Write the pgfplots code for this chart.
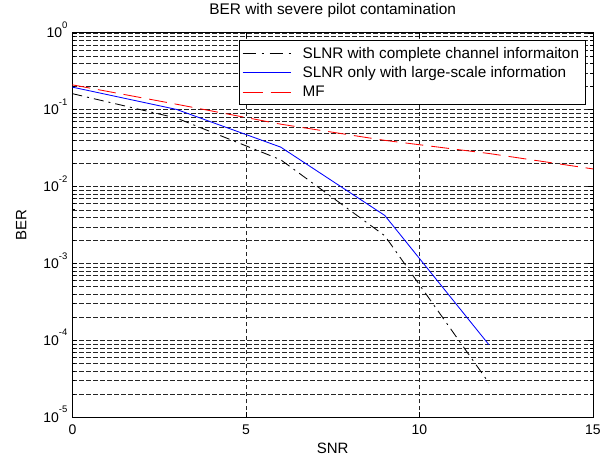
\documentclass[border=0pt]{standalone}
\usepackage{fontspec}
\setmainfont{Liberation Sans}
\usepackage{pgfplots}
\pgfplotsset{compat=1.18}

\definecolor{mred}{RGB}{255,0,0}
\definecolor{mblue}{RGB}{0,0,255}
\newcommand{\dec}[1]{10\raisebox{9.5pt}{\fontsize{9.5}{10}\selectfont #1}}

\begin{document}
\begin{tikzpicture}
\begin{axis}[
    scale only axis,
    width=520.5pt,
    height=384.3pt,
    xmin=0, xmax=15,
    ymode=log,
    ymin=1e-5, ymax=1,
    xtick={0,5,10,15},
    xticklabels={0,5,10,15},
    ytick={1e-5,1e-4,1e-3,1e-2,1e-1,1},
    yticklabels={\dec{-5},\dec{-4},\dec{-3},\dec{-2},\dec{-1},\dec{0}},
    /pgf/number format/assume math mode=true,
    xmajorgrids, ymajorgrids, yminorgrids,
    grid style={black!85, line width=0.55pt, dash pattern=on 4.5pt off 2.5pt},
    minor grid style={black!85, line width=0.55pt, dash pattern=on 4.5pt off 2.5pt},
    tick align=inside,
    major tick length=5pt,
    minor tick length=3pt,
    tick style={black, line width=0.6pt},
    axis line style={black, line width=0.9pt},
    ticklabel style={font=\fontsize{14}{16}\selectfont},
    xticklabel style={anchor=base, yshift=-17.7pt},
    yticklabel style={anchor=base east, yshift=-5pt, xshift=-1.5pt},
    title={BER with severe pilot contamination},
    title style={at={(axis description cs:0.5,1)}, anchor=base, yshift=12.4pt,
                 font=\fontsize{15.4}{17}\selectfont},
    xlabel={SNR},
    xlabel style={at={(axis description cs:0.5,0)}, anchor=base, yshift=-36.7pt,
                  font=\fontsize{15}{17}\selectfont},
    ylabel={BER},
    ylabel style={at={(axis description cs:0,0.5)}, anchor=base, yshift=46pt,
                  font=\fontsize{15}{17}\selectfont},
    legend cell align=left,
    legend style={at={(0.9865,0.981)}, anchor=north east,
        draw=black, line width=0.8pt, fill=white,
        font=\fontsize{15.3}{17}\selectfont,
        nodes={inner sep=3.5pt},
        column sep=8pt,
        inner xsep=3pt, inner ysep=3pt},
]
\addplot[black, line width=0.85pt, dash pattern=on 10pt off 5pt on 2pt off 5pt, forget plot]
coordinates {(0,0.162) (3,0.078) (6,0.0224) (9,0.0023) (12,2.8e-5)};
\addplot[mblue, line width=0.85pt, forget plot]
coordinates {(0,0.197) (3,0.101) (6,0.0327) (9,0.00422) (12,8.8e-5)};
\addplot[mred, line width=0.85pt, dash pattern=on 18pt off 8pt, forget plot]
coordinates {(0,0.211) (3,0.118) (6,0.065) (9,0.040) (12,0.027) (15,0.017)};

\addlegendimage{legend image code/.code={\draw[black, line width=1pt, dash pattern=on 13pt off 6pt on 2pt off 6pt] (0pt,0pt) -- (48pt,0pt);}}
\addlegendentry{SLNR with complete channel informaiton}
\addlegendimage{legend image code/.code={\draw[mblue, line width=1pt] (0pt,0pt) -- (48pt,0pt);}}
\addlegendentry{SLNR only with large-scale information}
\addlegendimage{legend image code/.code={\draw[mred, line width=1pt, dash pattern=on 20pt off 8pt] (0pt,0pt) -- (48pt,0pt);}}
\addlegendentry{MF}

\coordinate (sw) at (rel axis cs:0,0);
\coordinate (ne) at (rel axis cs:1,1);
\end{axis}
\path ([shift={(-72.4pt,-39pt)}]sw) rectangle ([shift={(20pt,30.7pt)}]ne);
\end{tikzpicture}
\end{document}
